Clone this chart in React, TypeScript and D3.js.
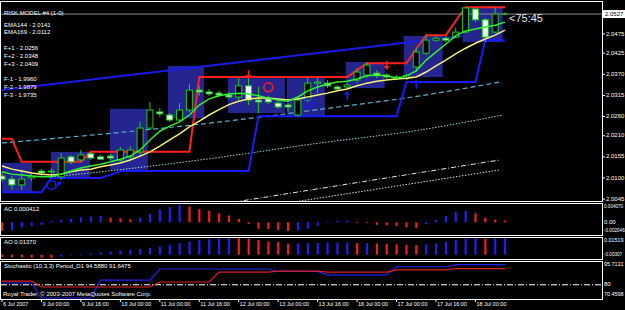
import React from 'react';
import * as d3 from 'd3';

const W = 625;
const H = 310;

// ---- price bars (52 bars) ----
const OPEN = [2.0105, 2.0097, 2.0082, 2.0100, 2.0118, 2.0116, 2.0103, 2.0155, 2.0147, 2.0163, 2.0155, 2.0157, 2.0147, 2.0155, 2.0168, 2.0230, 2.0272, 2.0264, 2.0251, 2.0277, 2.0329, 2.0324, 2.0321, 2.0316, 2.0311, 2.0340, 2.0303, 2.0306, 2.0295, 2.0290, 2.0264, 2.0303, 2.0347, 2.0347, 2.0337, 2.0337, 2.0355, 2.0368, 2.0373, 2.0368, 2.0363, 2.0360, 2.0389, 2.0425, 2.0459, 2.0464, 2.0467, 2.0480, 2.0540, 2.0512, 2.0480, 2.0527];
const HIGH = [2.0116, 2.0105, 2.0121, 2.0110, 2.0123, 2.0126, 2.0165, 2.0160, 2.0173, 2.0168, 2.0160, 2.0163, 2.0181, 2.0183, 2.0246, 2.0298, 2.0282, 2.0269, 2.0295, 2.0345, 2.0340, 2.0332, 2.0327, 2.0324, 2.0360, 2.0363, 2.0337, 2.0314, 2.0303, 2.0295, 2.0311, 2.0363, 2.0360, 2.0355, 2.0342, 2.0347, 2.0386, 2.0402, 2.0381, 2.0373, 2.0368, 2.0371, 2.0441, 2.0472, 2.0470, 2.0470, 2.0491, 2.0545, 2.0545, 2.0517, 2.0545, 2.0532];
const LOW = [2.0090, 2.0069, 2.0069, 2.0092, 2.0105, 2.0108, 2.0095, 2.0136, 2.0142, 2.0147, 2.0147, 2.0147, 2.0142, 2.0147, 2.0155, 2.0225, 2.0259, 2.0246, 2.0246, 2.0272, 2.0314, 2.0314, 2.0311, 2.0306, 2.0303, 2.0290, 2.0269, 2.0293, 2.0280, 2.0272, 2.0259, 2.0298, 2.0321, 2.0334, 2.0327, 2.0332, 2.0347, 2.0360, 2.0360, 2.0358, 2.0355, 2.0355, 2.0376, 2.0420, 2.0454, 2.0454, 2.0464, 2.0477, 2.0506, 2.0454, 2.0477, 2.0525];
const CLOSE = [2.0097, 2.0082, 2.0097, 2.0105, 2.0113, 2.0118, 2.0152, 2.0142, 2.0160, 2.0152, 2.0149, 2.0152, 2.0173, 2.0173, 2.0230, 2.0277, 2.0267, 2.0251, 2.0277, 2.0329, 2.0324, 2.0319, 2.0316, 2.0311, 2.0340, 2.0303, 2.0298, 2.0298, 2.0285, 2.0285, 2.0303, 2.0347, 2.0350, 2.0340, 2.0332, 2.0342, 2.0376, 2.0394, 2.0366, 2.0363, 2.0360, 2.0366, 2.0428, 2.0459, 2.0464, 2.0459, 2.0480, 2.0543, 2.0512, 2.0467, 2.0527, 2.0527];

// ---- indicator lines on price chart ----
const EMA_FAST = [2.0116, 2.0110, 2.0108, 2.0105, 2.0103, 2.0103, 2.0110, 2.0118, 2.0126, 2.0131, 2.0136, 2.0142, 2.0149, 2.0157, 2.0173, 2.0199, 2.0222, 2.0235, 2.0246, 2.0264, 2.0290, 2.0306, 2.0314, 2.0319, 2.0321, 2.0319, 2.0314, 2.0308, 2.0303, 2.0300, 2.0311, 2.0327, 2.0337, 2.0345, 2.0350, 2.0352, 2.0358, 2.0366, 2.0368, 2.0366, 2.0360, 2.0366, 2.0379, 2.0407, 2.0428, 2.0449, 2.0470, 2.0483, 2.0488, 2.0493, 2.0498, 2.0506];
const EMA_SLOW = [2.0131, 2.0123, 2.0118, 2.0113, 2.0110, 2.0108, 2.0110, 2.0116, 2.0121, 2.0123, 2.0129, 2.0134, 2.0139, 2.0147, 2.0157, 2.0168, 2.0183, 2.0199, 2.0215, 2.0233, 2.0248, 2.0264, 2.0278, 2.0291, 2.0300, 2.0306, 2.0308, 2.0308, 2.0306, 2.0303, 2.0306, 2.0311, 2.0316, 2.0321, 2.0327, 2.0332, 2.0340, 2.0347, 2.0352, 2.0355, 2.0358, 2.0360, 2.0363, 2.0376, 2.0392, 2.0407, 2.0423, 2.0438, 2.0451, 2.0462, 2.0472, 2.0485];
const STOP_UP = [2.0202, 2.0202, 2.0142, 2.0142, 2.0142, 2.0142, 2.0142, 2.0142, 2.0142, 2.0168, 2.0168, 2.0168, 2.0168, 2.0168, 2.0168, 2.0168, 2.0168, 2.0168, 2.0168, 2.0168, 2.0363, 2.0363, 2.0363, 2.0363, 2.0363, 2.0363, 2.0363, 2.0363, 2.0363, 2.0363, 2.0363, 2.0363, 2.0363, 2.0363, 2.0363, 2.0363, 2.0381, 2.0399, 2.0399, 2.0399, 2.0399, 2.0399, 2.0436, 2.0472, 2.0472, 2.0472, 2.0509, 2.0545, 2.0545, 2.0545, 2.0545, 2.0545];
const STOP_DN = [2.0063, 2.0063, 2.0063, 2.0063, 2.0063, 2.0100, 2.0100, 2.0100, 2.0100, 2.0100, 2.0100, 2.0108, 2.0118, 2.0118, 2.0118, 2.0118, 2.0118, 2.0118, 2.0118, 2.0118, 2.0118, 2.0118, 2.0118, 2.0118, 2.0118, 2.0118, 2.0261, 2.0261, 2.0261, 2.0261, 2.0261, 2.0261, 2.0261, 2.0261, 2.0261, 2.0261, 2.0261, 2.0261, 2.0261, 2.0261, 2.0261, 2.0350, 2.0350, 2.0350, 2.0350, 2.0350, 2.0350, 2.0350, 2.0350, 2.0459, 2.0459, 2.0459];

// trend / fibo lines: [bar, price]
const TREND_BLUE_BARS = [0, 46.7];
const TREND_BLUE_PRICES = [2.0329, 2.0470];
const CYAN_DASH_BARS = [0, 22.1, 33.2, 42.4, 50.5];
const CYAN_DASH_PRICES = [2.0191, 2.0246, 2.0282, 2.0314, 2.0350];
const CYAN_DOT_BARS = [5, 8.9, 20.1, 32.2, 42.4, 50.8];
const CYAN_DOT_PRICES = [2.0103, 2.0113, 2.0147, 2.0191, 2.0225, 2.0264];
const WHITE_A_BARS = [23.5, 50.5];
const WHITE_A_PRICES = [2.0037, 2.0147];
const WHITE_B_BARS = [29.5, 50.5];
const WHITE_B_PRICES = [2.0037, 2.0121];

// boxes: start bar, end bar, top price, bottom price
const BOX_START = [0, 4.96, 10.94, 16.82, 22.9, 28.88, 34.85, 40.73, 46.7];
const BOX_END = [3.04, 8.92, 14.79, 20.5, 28.67, 32.73, 38.8, 44.68, 50.76];
const BOX_TOP = [2.0139, 2.0168, 2.0280, 2.0392, 2.0360, 2.0360, 2.0402, 2.0470, 2.0545];
const BOX_BOTTOM = [2.0063, 2.0100, 2.0121, 2.0256, 2.0269, 2.0259, 2.0334, 2.0363, 2.0454];

// signal markers
const RED_ARROW_BARS = [25, 39];
const RED_ARROW_PRICES = [2.0368, 2.0392];
const RED_CIRCLE_BARS = [27];
const RED_CIRCLE_PRICES = [2.0336];
const BLUE_ARROW_BARS = [35, 42];
const BLUE_ARROW_PRICES = [2.0316, 2.0346];
const BLUE_CIRCLE_BARS = [31];
const BLUE_CIRCLE_PRICES = [2.0295];
const BLUE_MARK_BARS = [5];
const BLUE_MARK_PRICES = [2.0082];

// ---- sub windows ----
const AC = [-0.0020, -0.0019, -0.0012, -0.0009, -0.0006, 0.0003, 0.0006, 0.0008, 0.0012, 0.0014, 0.0015, 0.0011, 0.0009, 0.0007, 0.0011, 0.0020, 0.0030, 0.0036, 0.00407, 0.0037, 0.0031, 0.0027, 0.0021, 0.0016, 0.0008, -0.0004, -0.0015, -0.0016, -0.0018, -0.002046, -0.0019, -0.0015, -0.0008, 0.0002, 0.0003, 0.0004, -0.0001, -0.0002, -0.0006, -0.0007, -0.0009, -0.0012, -0.0014, -0.0004, 0.0005, 0.0015, 0.0024, 0.0027, 0.0021, 0.0011, 0.0006, 0.000412];
const AO = [-0.0022, -0.0024, -0.0026, -0.0028, -0.0029, -0.00307, -0.0018, -0.0008, 0.0002, 0.0012, 0.0020, 0.0028, 0.0036, 0.0044, 0.0052, 0.0062, 0.0075, 0.0090, 0.0105, 0.0120, 0.0135, 0.0140, 0.0146, 0.01519, 0.0150, 0.0145, 0.0133, 0.0120, 0.0114, 0.0100, 0.0103, 0.0104, 0.0106, 0.0108, 0.0110, 0.0112, 0.0105, 0.0106, 0.0102, 0.0100, 0.0094, 0.0089, 0.0087, 0.0093, 0.0102, 0.0118, 0.0133, 0.0146, 0.0150, 0.0145, 0.0148, 0.0151];
const STOCH_MAIN = [81.3, 81.3, 81.3, 81.3, 70.4598, 70.4598, 70.4598, 70.4598, 70.4598, 70.4598, 83.4, 83.4, 83.4, 83.4, 83.4, 83.4, 91.4, 91.4, 91.4, 91.4, 91.4, 91.4, 91.4, 91.4, 91.4, 91.4, 91.4, 91.4, 89.6, 89.6, 89.6, 89.6, 89.6, 87.1, 87.1, 87.1, 87.1, 87.1, 87.1, 87.1, 93.0, 93.0, 93.0, 93.0, 93.0, 93.0, 94.588, 94.588, 94.588, 94.588, 94.588, 94.588];
const STOCH_SIGNAL = [82.7, 82.7, 82.7, 82.7, 78.4, 78.4, 78.4, 78.4, 78.4, 78.4, 78.4, 78.4, 78.4, 78.4, 78.4, 78.4, 82.0, 82.0, 82.0, 82.0, 82.0, 82.0, 89.2, 89.2, 89.2, 89.2, 89.2, 89.2, 89.9, 89.9, 89.9, 89.9, 89.9, 89.2, 89.2, 89.2, 89.2, 89.2, 89.2, 89.2, 90.7, 90.7, 90.7, 90.7, 90.7, 90.7, 91.6475, 91.6475, 91.6475, 91.6475, 91.6475, 91.6475];

// ---- axis labels ----
const PRICE_TICKS = [2.0475, 2.0425, 2.0370, 2.0315, 2.0260, 2.0210, 2.0155, 2.0100, 2.0045];
const CURRENT_PRICE = 2.0527;
const AC_TICKS = [0.004070, 0, -0.002046];
const AC_TICK_TEXT = ['0.004070', '0.00', '-0.002046'];
const AO_TICKS = [0.01519, -0.00307];
const AO_TICK_TEXT = ['0.01519', '-0.00307'];
const ST_TICKS = [95.7131, 80, 70.4598];
const ST_TICK_TEXT = ['95.7131', '80', '70.4598'];
const TIME_BARS = [0, 4, 8, 12, 16, 20, 24, 28, 32, 36, 40, 44, 48];
const TIME_LABELS = ['6 Jul 2007', '9 Jul 00:00', '9 Jul 16:00', '10 Jul 00:00', '11 Jul 00:00', '11 Jul 16:00', '12 Jul 00:00', '13 Jul 00:00', '13 Jul 16:00', '16 Jul 00:00', '17 Jul 00:00', '17 Jul 16:00', '18 Jul 00:00'];
const INFO_LINES = ['EMA144 - 2.0141', 'EMA169 - 2.0112', '', 'F+1 - 2.0256', 'F+2 - 2.0348', 'F+3 - 2.0409', '', 'F-1 - 1.9960', 'F-2 - 1.9879', 'F-3 - 1.9735'];

const FONT = 'Liberation Sans, Arial, sans-serif';

export default function App() {
  const RIGHT = 602;
  const panels = {
    main: [1, 201],
    ac: [203, 235],
    ao: [237, 259],
    st: [261, 299],
  } as Record<string, number[]>;

  const x = d3.scaleLinear().domain([0, 51]).range([2, 505]);
  const y = d3.scaleLinear().domain([2.0040, 2.0561]).range([201, 1]);
  const yAC = d3.scaleLinear().domain([-0.002046, 0.004070]).range([231, 205]);
  const yAO = d3.scaleLinear().domain([-0.00307, 0.01519]).range([258, 238]);
  const yST = d3.scaleLinear().domain([70.4598, 95.7131]).range([298, 263]);

  const seriesPath = (arr: number[], sy: any) =>
    d3.line<number>().x((_, i) => x(i)).y((v) => sy(v))(arr) || '';
  const pointsPath = (bars: number[], prices: number[]) =>
    d3.line<number>().x((b) => x(b)).y((_, i) => y(prices[i])).curve(d3.curveMonotoneX)(bars) || '';

  const clampLabel = (v: number, p: number[]) => Math.max(p[0] + 4, Math.min(p[1] - 4, v));

  const green = '#1ec81e';
  const blue = '#1a1aff';
  const red = '#ff2020';

  const candles = OPEN.map((o, i) => {
    const c = CLOSE[i];
    const cx = x(i);
    const top = y(Math.max(o, c));
    const bot = y(Math.min(o, c));
    const bull = c > o;
    const doji = Math.abs(c - o) < 1e-9;
    return (
      <g key={'c' + i}>
        <line x1={cx} x2={cx} y1={y(HIGH[i])} y2={y(LOW[i])} stroke={green} strokeWidth={1} />
        {doji ? (
          <line x1={cx - 3} x2={cx + 3} y1={top} y2={top} stroke={green} strokeWidth={1} />
        ) : (
          <rect x={cx - 3} y={top} width={6} height={Math.max(1, bot - top)} fill={bull ? '#000' : '#f4fff4'} stroke={green} strokeWidth={1} />
        )}
      </g>
    );
  });

  const histo = (vals: number[], sy: any, key: string) =>
    vals.map((v, i) => {
      const up = i > 0 && v > vals[i - 1];
      const y0 = sy(0);
      const y1 = sy(v);
      return (
        <rect key={key + i} x={x(i) - 1} width={2.2} y={Math.min(y0, y1)} height={Math.max(0.8, Math.abs(y1 - y0))} fill={up ? '#2020ee' : '#ee2020'} />
      );
    });

  const txt = (s: string, tx: number, ty: number, k: string, extra: any = {}) => (
    <text key={k} x={tx} y={ty} fill="#ffffff" fontSize={6} fontFamily={FONT} dominantBaseline="middle" {...extra}>
      {s}
    </text>
  );
  // right-side labels: smaller type for long values so they stay inside the picture
  const rlab = (s: string, ty: number, k: string) =>
    txt(s, RIGHT + 2, ty, k, { fontSize: s.length >= 8 ? 4.6 : s.length >= 7 ? 5.4 : 6 });

  const priceLineY = y(CURRENT_PRICE);

  return (
    <svg width={W} height={H} style={{ position: 'absolute', left: 0, top: 0, display: 'block', background: '#000' }}>
      <defs>
        <clipPath id="mainClip">
          <rect x={1} y={2} width={RIGHT - 1} height={199} />
        </clipPath>
      </defs>
      <rect x={0} y={0} width={W} height={H} fill="#000" />

      <g clipPath="url(#mainClip)">
        {BOX_START.map((b, i) => (
          <rect key={'b' + i} x={x(b)} y={y(BOX_TOP[i])} width={x(BOX_END[i]) - x(b)} height={y(BOX_BOTTOM[i]) - y(BOX_TOP[i])} fill="#252590" />
        ))}
        <path d={d3.line<number>().x((b) => x(b)).y((_, i) => y(TREND_BLUE_PRICES[i]))(TREND_BLUE_BARS) || ''} stroke="#1a1ae6" strokeWidth={2} fill="none" />
        <path d={pointsPath(CYAN_DASH_BARS, CYAN_DASH_PRICES)} stroke="#5ab0d0" strokeWidth={1.2} strokeDasharray="5,3" fill="none" />
        <path d={pointsPath(CYAN_DOT_BARS, CYAN_DOT_PRICES)} stroke="#9ad8d8" strokeWidth={1} strokeDasharray="1.5,1.5" fill="none" />
        <path d={pointsPath(WHITE_A_BARS, WHITE_A_PRICES)} stroke="#e8e8e8" strokeWidth={1} strokeDasharray="5,2,1,2" fill="none" />
        <path d={pointsPath(WHITE_B_BARS, WHITE_B_PRICES)} stroke="#e0e0e0" strokeWidth={1} strokeDasharray="1.5,1.5" fill="none" />
        <path d={seriesPath(STOP_DN, y)} stroke={blue} strokeWidth={2} fill="none" />
        <path d={seriesPath(STOP_UP, y)} stroke={red} strokeWidth={2} fill="none" />
        <line x1={1} x2={RIGHT} y1={priceLineY} y2={priceLineY} stroke="#8a8a8a" strokeWidth={1} />
        {candles}
        <path d={seriesPath(EMA_SLOW, y)} stroke="#f4f07a" strokeWidth={1.5} fill="none" />
        <path d={seriesPath(EMA_FAST, y)} stroke="#2ef02e" strokeWidth={1.5} fill="none" />

        {RED_ARROW_BARS.map((b, i) => {
          const ax = x(b), ay = y(RED_ARROW_PRICES[i]);
          return (
            <g key={'ra' + i}>
              <line x1={ax} x2={ax} y1={ay - 5} y2={ay + 1} stroke={red} strokeWidth={1.5} />
              <path d={`M${ax - 3},${ay} L${ax + 3},${ay} L${ax},${ay + 4} Z`} fill={red} />
            </g>
          );
        })}
        {BLUE_ARROW_BARS.map((b, i) => {
          const ax = x(b), ay = y(BLUE_ARROW_PRICES[i]);
          return (
            <g key={'ba' + i}>
              <line x1={ax} x2={ax} y1={ay - 1} y2={ay + 5} stroke={blue} strokeWidth={1.5} />
              <path d={`M${ax - 3},${ay} L${ax + 3},${ay} L${ax},${ay - 4} Z`} fill={blue} />
            </g>
          );
        })}
        {RED_CIRCLE_BARS.map((b, i) => (
          <circle key={'rc' + i} cx={x(b)} cy={y(RED_CIRCLE_PRICES[i])} r={4.5} fill="none" stroke={red} strokeWidth={1.5} />
        ))}
        {BLUE_CIRCLE_BARS.map((b, i) => (
          <circle key={'bc' + i} cx={x(b)} cy={y(BLUE_CIRCLE_PRICES[i])} r={4.5} fill="none" stroke={blue} strokeWidth={1.5} />
        ))}
        {BLUE_MARK_BARS.map((b, i) => {
          const mx = x(b), my = y(BLUE_MARK_PRICES[i]);
          return (
            <g key={'bm' + i}>
              <circle cx={mx} cy={my} r={4.5} fill="none" stroke={blue} strokeWidth={1.5} />
              <line x1={mx + 4} x2={mx + 8} y1={my + 3} y2={my - 2} stroke={blue} strokeWidth={1.5} />
              <path d={`M${mx + 5},${my - 2} L${mx + 10},${my - 4} L${mx + 9},${my + 1} Z`} fill={blue} />
            </g>
          );
        })}
      </g>

      {/* sub windows */}
      {histo(AC, yAC, 'ac')}
      {histo(AO, yAO, 'ao')}
      <line x1={1} x2={RIGHT} y1={yST(80)} y2={yST(80)} stroke="#ffffff" strokeWidth={1} strokeDasharray="6,2,1,2" />
      <path d={seriesPath(STOCH_MAIN, yST)} stroke="#2222ee" strokeWidth={1.2} fill="none" />
      <path d={seriesPath(STOCH_SIGNAL, yST)} stroke="#e02020" strokeWidth={1.2} fill="none" />

      {/* frames */}
      {Object.keys(panels).map((k) => (
        <rect key={'f' + k} x={0.5} y={panels[k][0] + 0.5} width={RIGHT} height={panels[k][1] - panels[k][0]} fill="none" stroke="#ffffff" strokeWidth={1} />
      ))}

      {/* texts main */}
      {txt('RISK.MODEL #4 (1-0)', 4, 13, 't0')}
      {INFO_LINES.map((s, i) => (s ? txt(s, 4, 25 + i * 7.8, 'il' + i) : null))}
      <text x={509} y={19} fill="#e6e6e6" fontSize={11} fontFamily={FONT} dominantBaseline="middle">{'<75:45'}</text>

      {/* price axis */}
      {PRICE_TICKS.map((v, i) => (
        <g key={'pt' + i}>
          <line x1={RIGHT} x2={RIGHT + 3} y1={y(v)} y2={y(v)} stroke="#fff" />
          {txt(d3.format('.4f')(v), RIGHT + 4, y(v), 'ptt' + i)}
        </g>
      ))}
      <rect x={RIGHT + 1} y={priceLineY - 4} width={22} height={8} fill="#ffffff" />
      {txt(d3.format('.4f')(CURRENT_PRICE), RIGHT + 3, priceLineY, 'cp', { fill: '#000' })}

      {AC_TICKS.map((v, i) => rlab(AC_TICK_TEXT[i], clampLabel(yAC(v), panels.ac), 'act' + i))}
      {AO_TICKS.map((v, i) => rlab(AO_TICK_TEXT[i], clampLabel(yAO(v), panels.ao), 'aot' + i))}
      {ST_TICKS.map((v, i) => rlab(ST_TICK_TEXT[i], clampLabel(yST(v), panels.st), 'stt' + i))}

      {txt('AC 0.000412', 4, 209, 'acl')}
      {txt('AO 0.01370', 4, 242, 'aol')}
      {txt('Stochastic (10,3,3) Period_D1 94.5880 91.6475', 4, 266, 'stl')}
      {txt('Royal Trader, \u00a9 2003-2007 MetaQuotes Software Corp.', 3, 294, 'rt')}

      {/* time axis */}
      {TIME_BARS.map((b, i) => (
        <g key={'tb' + i}>
          <line x1={x(b)} x2={x(b)} y1={299} y2={302} stroke="#fff" />
          {txt(TIME_LABELS[i], x(b) + 1, 305, 'tl' + i, { fontSize: 5.5 })}
        </g>
      ))}
    </svg>
  );
}
